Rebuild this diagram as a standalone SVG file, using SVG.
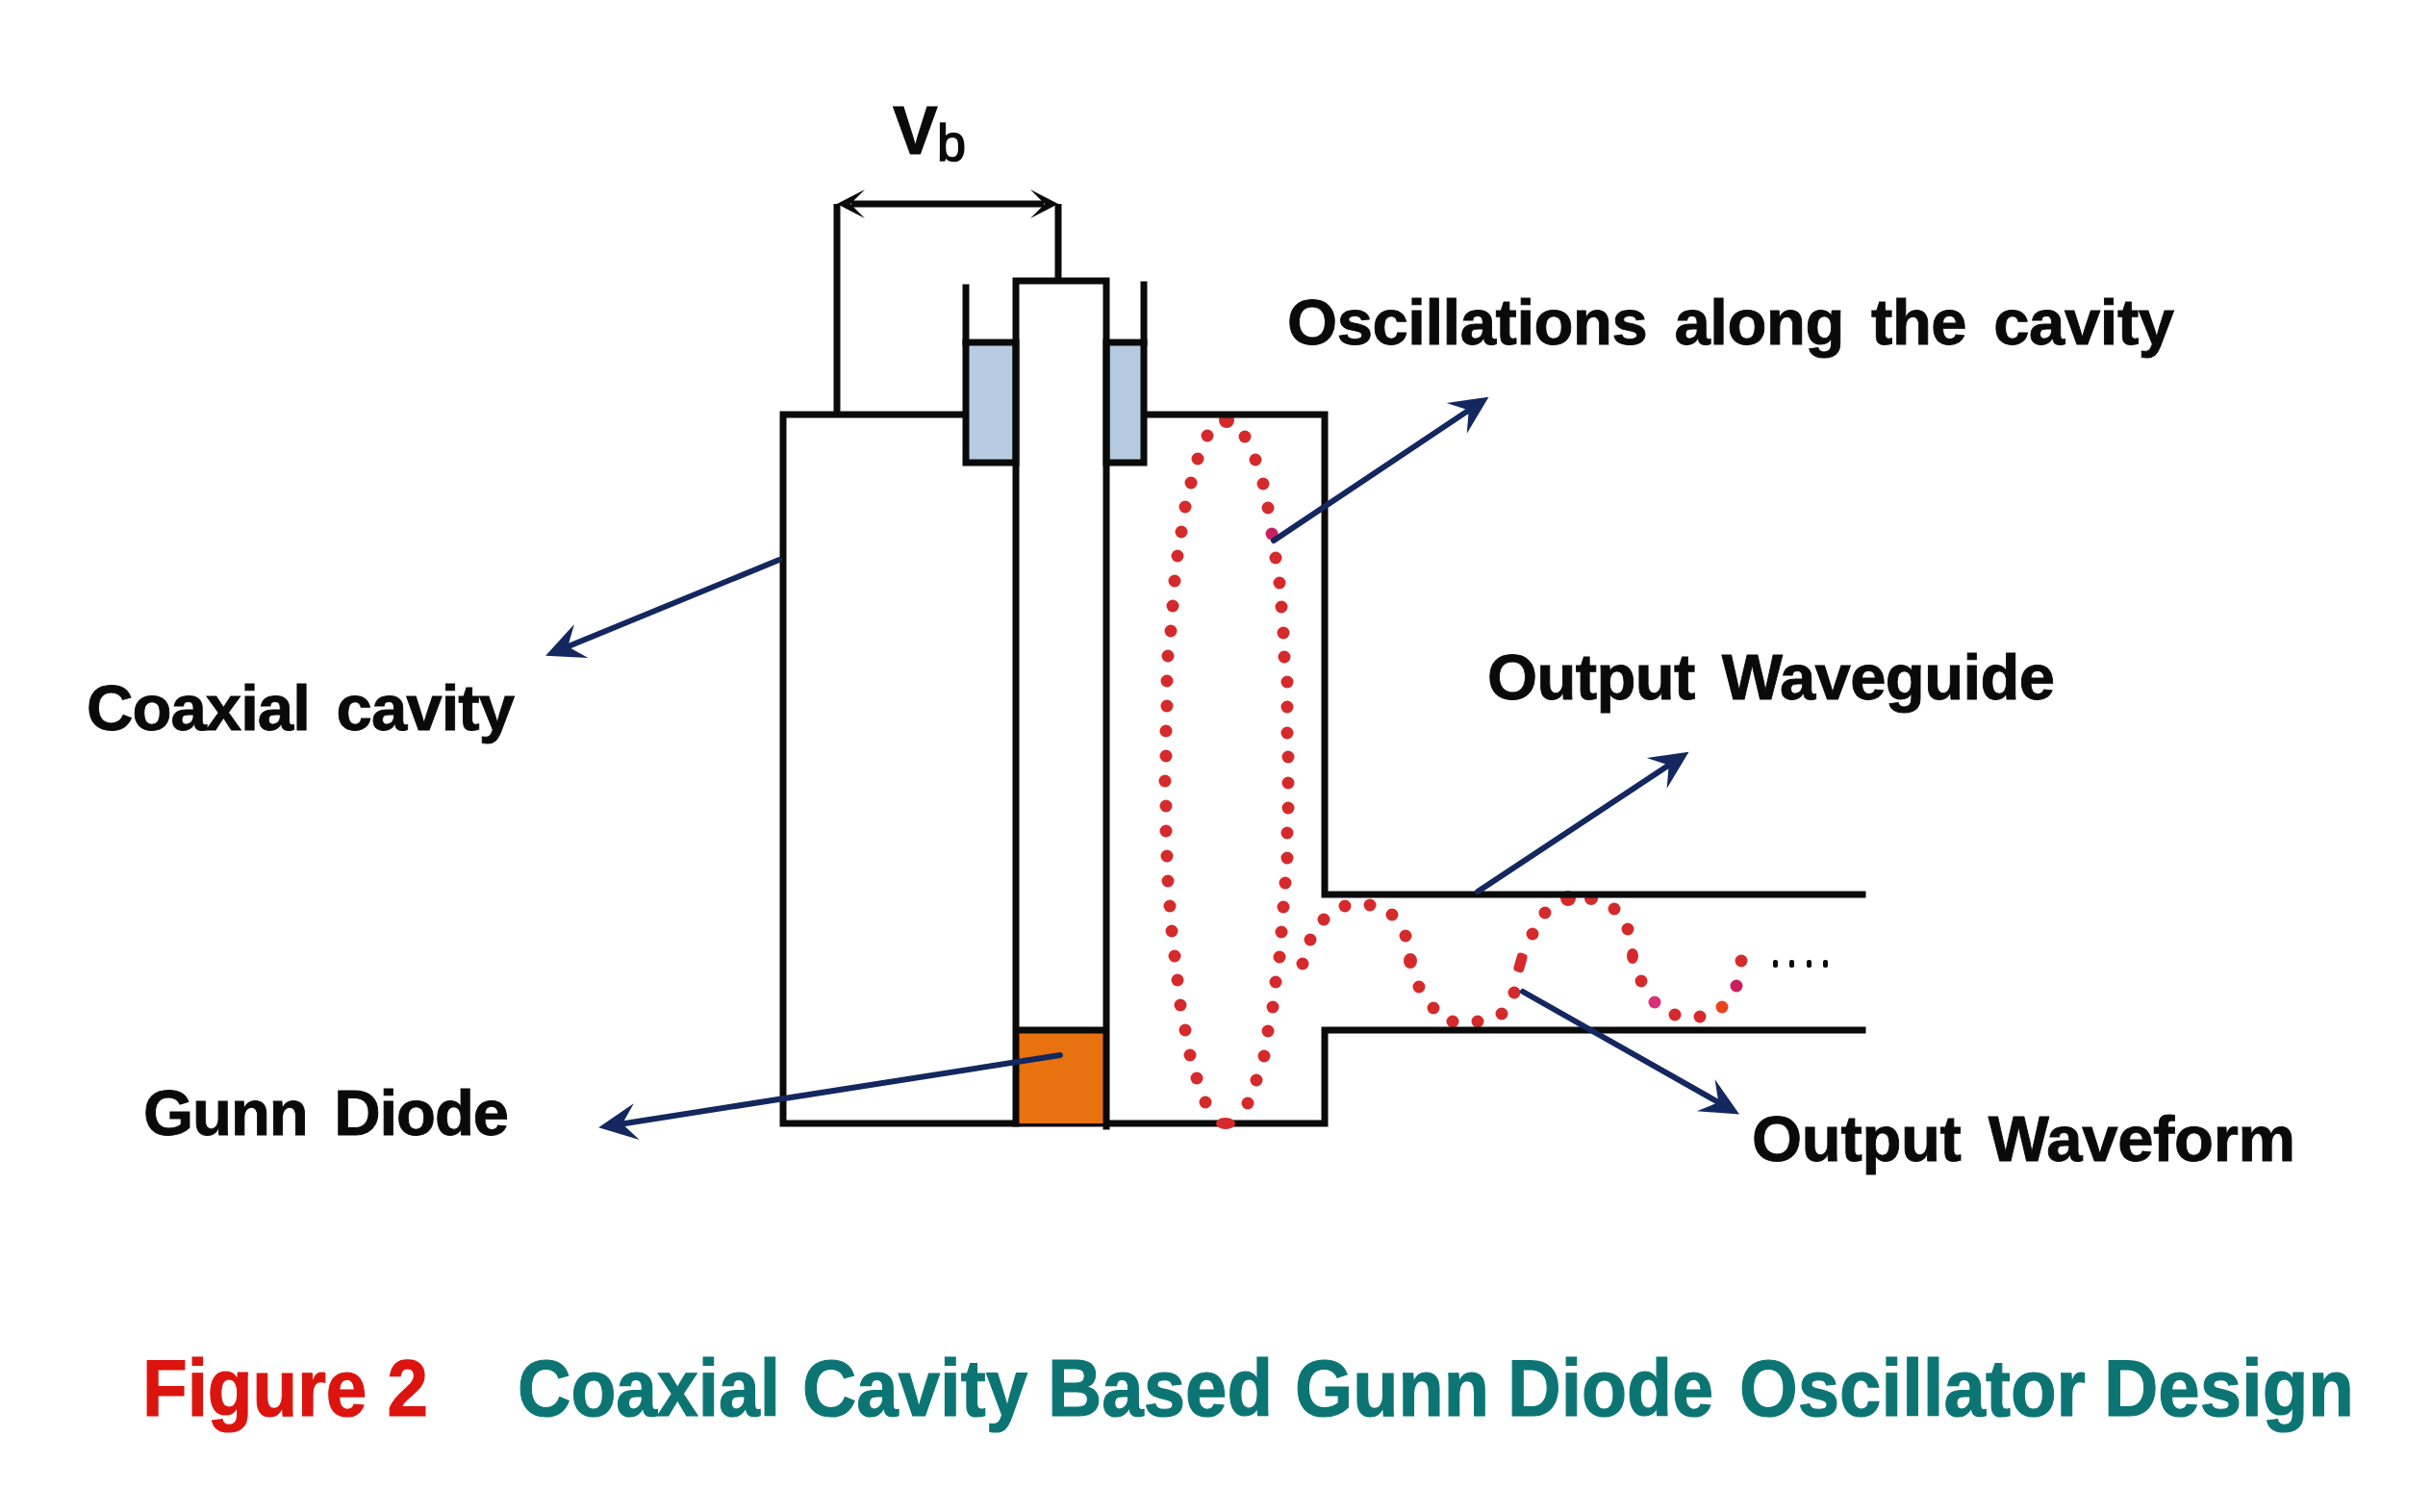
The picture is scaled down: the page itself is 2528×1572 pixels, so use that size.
<svg xmlns="http://www.w3.org/2000/svg" width="2528" height="1572" viewBox="0 0 2528 1572">
<style>
text{font-family:"Liberation Sans",Arial,sans-serif;font-weight:700;fill:#0a0a0a}
.lab{font-size:67px;stroke:#0a0a0a;stroke-width:.9;word-spacing:10px}
.cap{font-size:84px;stroke-width:1.2}
.ln{fill:none;stroke:#0a0a0a;stroke-width:7;stroke-linejoin:miter;stroke-linecap:square}
.ar{fill:none;stroke:#14275e;stroke-width:6;stroke-linecap:round;marker-end:url(#navy)}
.d{fill:#d52a2c}
.d circle{r:6.5px}
</style>
<defs>
<marker id="navy" markerUnits="userSpaceOnUse" viewBox="-45 -25 50 50" markerWidth="50" markerHeight="50" refX="-15" refY="0" orient="auto"><path d="M0 0L-40-19L-25 0L-40 19Z" fill="#14275e"/></marker>
<marker id="blk" markerUnits="userSpaceOnUse" viewBox="-45 -25 50 50" markerWidth="50" markerHeight="50" refX="-15" refY="0" orient="auto-start-reverse"><path d="M0 0L-29-15L-14 0L-29 15Z" fill="#0a0a0a"/></marker>
</defs>
<rect width="2528" height="1572" fill="#fff"/>
<g id="oscillation-dots" class="d">
<circle cx="1275" cy="437" style="r:8px"/>
<circle cx="1255" cy="453"/><circle cx="1245" cy="477"/><circle cx="1238" cy="502"/><circle cx="1232" cy="527"/><circle cx="1228" cy="553"/><circle cx="1224" cy="578"/><circle cx="1221" cy="604"/><circle cx="1219" cy="630"/><circle cx="1217" cy="656"/><circle cx="1214" cy="682"/><circle cx="1213" cy="708"/><circle cx="1213" cy="734"/><circle cx="1212" cy="760"/><circle cx="1212" cy="786"/><circle cx="1211" cy="812"/><circle cx="1212" cy="838"/><circle cx="1212" cy="864"/><circle cx="1213" cy="890"/><circle cx="1214" cy="916"/><circle cx="1216" cy="942"/><circle cx="1218" cy="968"/><circle cx="1221" cy="994"/><circle cx="1224" cy="1019"/><circle cx="1227" cy="1045"/><circle cx="1232" cy="1071"/><circle cx="1237" cy="1097"/><circle cx="1244" cy="1121"/><circle cx="1253" cy="1146"/>
<circle cx="1294" cy="454"/><circle cx="1305" cy="478"/><circle cx="1313" cy="503"/><circle cx="1318" cy="528"/><circle cx="1322" cy="555" fill="#c92060"/><circle cx="1326" cy="580"/><circle cx="1330" cy="606"/><circle cx="1332" cy="631"/><circle cx="1334" cy="658"/><circle cx="1335" cy="683"/><circle cx="1338" cy="709"/><circle cx="1338" cy="735"/><circle cx="1338" cy="762"/><circle cx="1339" cy="787"/><circle cx="1339" cy="814"/><circle cx="1339" cy="840"/><circle cx="1338" cy="866"/><circle cx="1338" cy="892"/><circle cx="1336" cy="918"/><circle cx="1334" cy="943"/><circle cx="1332" cy="969"/><circle cx="1330" cy="995"/><circle cx="1326" cy="1021"/><circle cx="1323" cy="1047"/><circle cx="1318" cy="1072"/><circle cx="1314" cy="1098"/><circle cx="1306" cy="1123"/><circle cx="1297" cy="1147"/>
</g>
<g id="output-waveform-dots" class="d">
<circle cx="1354" cy="1002"/><circle cx="1362" cy="977"/><circle cx="1376" cy="956"/><circle cx="1398" cy="942"/><circle cx="1424" cy="941"/><circle cx="1447" cy="951"/><circle cx="1461" cy="973"/><ellipse cx="1466" cy="999" rx="7" ry="8"/><circle cx="1475" cy="1026"/><circle cx="1490" cy="1048"/><circle cx="1510" cy="1062"/><circle cx="1536" cy="1062"/><circle cx="1561" cy="1054"/><circle cx="1574" cy="1032"/><rect x="1575" y="991" width="11" height="20" rx="4" transform="rotate(16 1581 1001)"/><circle cx="1593" cy="971"/><circle cx="1606" cy="949"/><circle cx="1630" cy="934" style="r:8px"/><circle cx="1654" cy="934" style="r:7px"/><circle cx="1678" cy="945"/><circle cx="1692" cy="966"/><ellipse cx="1697" cy="994" rx="6" ry="8"/><circle cx="1706" cy="1020"/><circle cx="1720" cy="1042" fill="#d8307a"/><circle cx="1741" cy="1055"/><circle cx="1767" cy="1057"/><circle cx="1790" cy="1047" fill="#e8441e"/><circle cx="1805" cy="1025" fill="#c92060"/><circle cx="1810" cy="999"/>
</g>
<g id="trailing-dots" fill="#0a0a0a">
<rect x="1843" y="998" width="5" height="8" rx="2"/><rect x="1860" y="998" width="5" height="8" rx="2"/><rect x="1878" y="998" width="5" height="8" rx="2"/><rect x="1895" y="998" width="5" height="8" rx="2"/>
</g>
<g id="coaxial-cavity"><path class="ln" d="M1004 431H814V1168H1377V1071H1936M1189 431H1377V930H1936"/></g>
<g id="dielectric-left"><rect class="ln" x="1004" y="356" width="52" height="125" style="fill:#b7cce3"/><path class="ln" d="M1004 299V356"/></g>
<g id="dielectric-right"><rect class="ln" x="1150" y="356" width="39" height="125" style="fill:#b5c9df"/><path class="ln" d="M1189 296V356"/></g>
<g id="gunn-diode"><rect x="1056" y="1071" width="94" height="97" fill="#e8720f"/></g>
<g id="center-conductor"><path class="ln" d="M1056 1168V292H1150V1171M1056 1071H1150"/></g>
<g id="bias-supply"><path class="ln" d="M870 431V212M1100 292V212" style="stroke-linecap:butt"/></g>
<g id="connectors">
<path class="ar" d="M810 582L581 676"/>
<path class="ar" d="M1102 1097L637 1170"/>
<path class="ar" d="M1324 562L1535 421"/>
<path class="ar" d="M1536 927L1743 790"/>
<path class="ar" d="M1583 1031L1795 1151"/>
<path d="M885 212H1085" fill="none" stroke="#0a0a0a" stroke-width="7" marker-start="url(#blk)" marker-end="url(#blk)"/>
</g>
<g id="bottom-antinode"><ellipse cx="1274" cy="1168" rx="10" ry="6" fill="#d52a2c"/></g>
<g id="labels">
<text x="928" y="160" font-size="70" stroke="#0a0a0a" stroke-width="1">V<tspan x="974" y="167" style="font-weight:400;font-size:54px" stroke="#0a0a0a" stroke-width="1.5">b</tspan></text>
<text class="lab" x="1338" y="358" textLength="922">Oscillations along the cavity</text>
<text class="lab" x="90" y="759" textLength="445">Coaxial cavity</text>
<text class="lab" x="1546" y="727" textLength="590">Output Waveguide</text>
<text class="lab" x="149" y="1180" textLength="380">Gunn Diode</text>
<text class="lab" x="1821" y="1207" textLength="565">Output Waveform</text>
</g>
<g id="caption">
<text class="cap" x="148" y="1472" textLength="297" lengthAdjust="spacingAndGlyphs" style="fill:#dc140f;stroke:#dc140f">Figure 2</text>
<text class="cap" y="1472" style="fill:#0c7574;stroke:#0c7574"><tspan x="538" textLength="273" lengthAdjust="spacingAndGlyphs">Coaxial</tspan> <tspan x="834" textLength="234" lengthAdjust="spacingAndGlyphs">Cavity</tspan> <tspan x="1089" textLength="234" lengthAdjust="spacingAndGlyphs">Based</tspan> <tspan x="1346" textLength="202" lengthAdjust="spacingAndGlyphs">Gunn</tspan> <tspan x="1567" textLength="214" lengthAdjust="spacingAndGlyphs">Diode</tspan> <tspan x="1808" textLength="360" lengthAdjust="spacingAndGlyphs">Oscillator</tspan> <tspan x="2187" textLength="260" lengthAdjust="spacingAndGlyphs">Design</tspan></text>
</g>
</svg>
